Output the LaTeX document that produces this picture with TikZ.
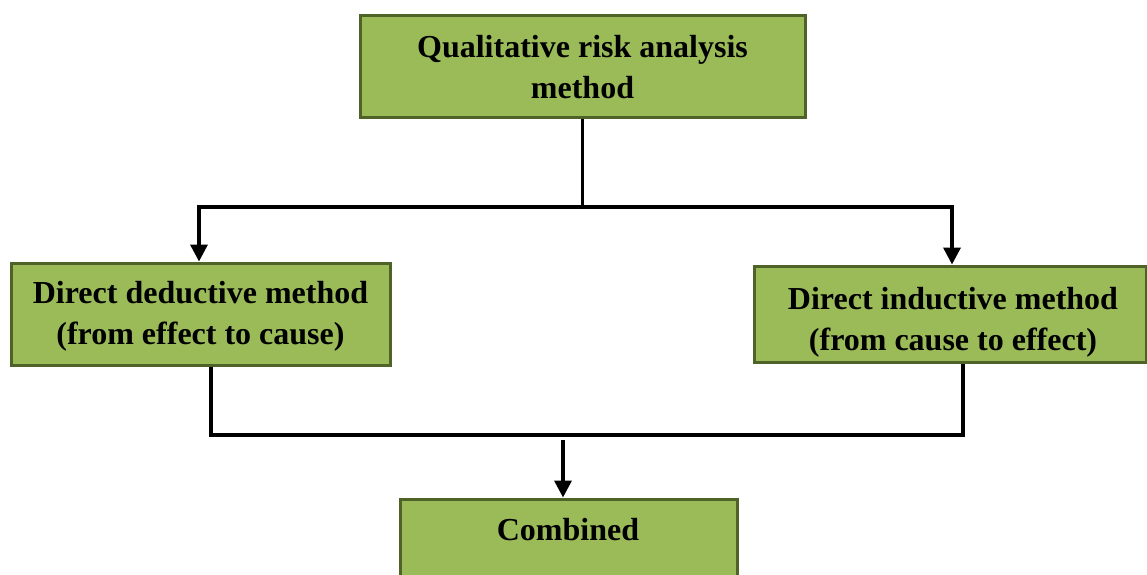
\documentclass[tikz,border=0pt]{standalone}
\usepackage{fontspec}
\setmainfont{Liberation Serif}
\usetikzlibrary{arrows.meta,calc}
\definecolor{boxfill}{HTML}{9BBB59}
\definecolor{boxline}{HTML}{4F6228}
\begin{document}
\begin{tikzpicture}[x=1pt,y=-1pt,
  gbox/.style={draw=boxline,line width=3pt,fill=boxfill,inner sep=0pt},
  txt/.style={align=center,font=\fontsize{32}{41}\selectfont\bfseries,inner sep=0pt},
  conn/.style={line width=3.5pt,black},
  arr/.style={conn,-{Triangle[width=17pt,length=17pt]}}]
\useasboundingbox (0,0) rectangle (1147,574);
\clip (0,0) rectangle (1147,574);
% boxes
\node[gbox,minimum width=445pt,minimum height=102pt] (top) at (582.5,66) {};
\node[txt] (toptxt) at (582.5,67) {Qualitative risk analysis\\method};
\node[gbox,minimum width=379pt,minimum height=102pt] (left) at (200.5,314) {};
\node[txt] (lefttxt) at (200.5,316) {Direct deductive method\\(from effect to cause)};
\node[gbox,minimum width=392pt,minimum height=96pt] (right) at (950,314) {};
\begin{scope}
\clip (right.north west) rectangle (right.south east);
\node[txt] (righttxt) at (953,322) {Direct inductive method\\(from cause to effect)};
\end{scope}
\node[gbox,minimum width=337pt,minimum height=140pt] (comb) at (569,569) {};
\node[txt] (combtxt) at (568,530) {Combined};
% connectors
\coordinate (j1) at (582.5,207);
\draw[conn] (top.south) -- (j1);
\draw[arr] (j1) -| ([xshift=-1.5pt]left.north);
\draw[arr] (j1) -| ([xshift=2pt]right.north);
\coordinate (j2) at (563,435);
\draw[conn] ([xshift=10.5pt]left.south) |- (j2) -| ([xshift=13pt]right.south);
\coordinate (j3) at (563,440);
\draw[arr] (j3) -- (j3 |- comb.north);
\end{tikzpicture}
\end{document}
